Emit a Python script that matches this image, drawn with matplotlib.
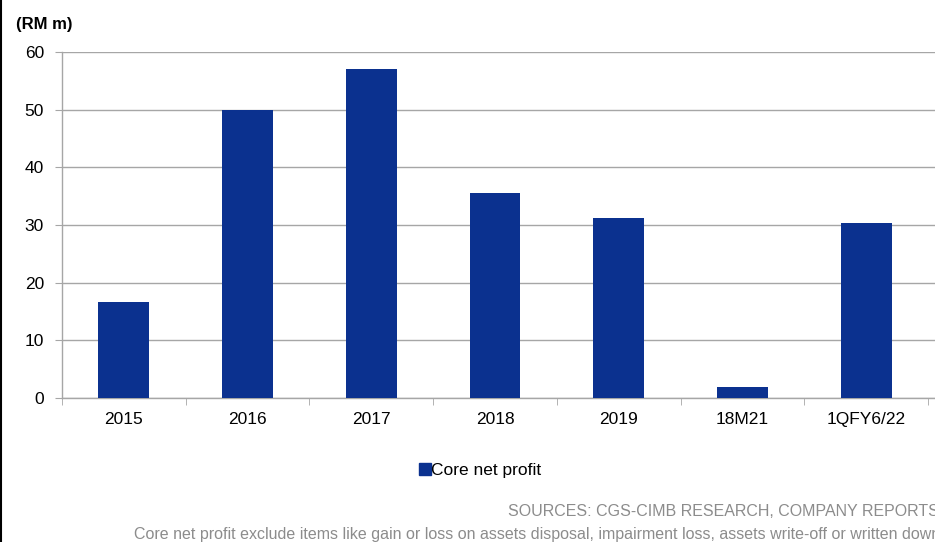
import matplotlib.pyplot as plt
from matplotlib.lines import Line2D

categories = ['2015', '2016', '2017', '2018', '2019', '18M21', '1QFY6/22']
core_net_profit = [16.6, 49.9, 57.0, 35.5, 31.3, 1.9, 30.3]
y_ticks = [0, 10, 20, 30, 40, 50, 60]

plt.rcParams['font.family'] = ['Liberation Sans', 'DejaVu Sans']

W, H = 935, 542
fig = plt.figure(figsize=(W / 100, H / 100), dpi=100)
fig.patch.set_facecolor('white')

# axes in pixel coords: left 62, right 935, bottom 398, top 52
ax = fig.add_axes([62 / W, 1 - 398 / H, (935 - 62) / W, (398 - 52) / H])
x = list(range(len(categories)))
ax.bar(x, core_net_profit, width=0.41, color='#0b318f', zorder=3)

ax.set_ylim(0, 60)
ax.set_yticks(y_ticks)
ax.set_xlim(-0.5, -0.5 + (935 - 62) / ((928 - 62) / 7))
ax.yaxis.grid(True, color='#a6a6a6', linewidth=1, zorder=0)
ax.set_axisbelow(True)
for s in ['top', 'right']:
    ax.spines[s].set_visible(False)
for s in ['left', 'bottom']:
    ax.spines[s].set_color('#a6a6a6')
    ax.spines[s].set_linewidth(1)

ax.set_xticks(x)
ax.set_xticklabels(categories)
ax.tick_params(axis='x', length=0, labelsize=12.5, pad=10, colors='black')
ax.set_xticks([i - 0.5 for i in range(len(categories) + 1)], minor=True)
ax.tick_params(axis='x', which='minor', length=5, color='#a6a6a6', direction='out')
ax.tick_params(axis='y', length=5, color='#a6a6a6', labelsize=12.5, pad=8)

fig.text(16 / W, 1 - 24 / H, '(RM m)', fontsize=12, fontweight='bold', va='center', ha='left',
         family=['Liberation Sans Narrow', 'Liberation Sans', 'DejaVu Sans'])

handle = Line2D([], [], marker='s', linestyle='none', markersize=8,
                markerfacecolor='#0b318f', markeredgecolor='#0b318f')
fig.legend([handle], ['Core net profit'], loc='center', bbox_to_anchor=(480 / W, 1 - 470 / H),
           frameon=False, fontsize=12.5, handletextpad=0.05, handlelength=0.7)

fig.text(508 / W, 1 - 512 / H, 'SOURCES: CGS-CIMB RESEARCH, COMPANY REPORTS',
         fontsize=11.5, color='#8c8c8c', va='center', ha='left')
fig.text(134 / W, 1 - 535 / H,
         'Core net profit exclude items like gain or loss on assets disposal, impairment loss, '
         'assets write-off or written down',
         fontsize=11.5, color='#8c8c8c', va='center', ha='left')

# left border line
fig.add_artist(Line2D([1 / W, 1 / W], [0, 1], transform=fig.transFigure, color='black', linewidth=1.5))

fig.savefig('out.png', dpi=100)
